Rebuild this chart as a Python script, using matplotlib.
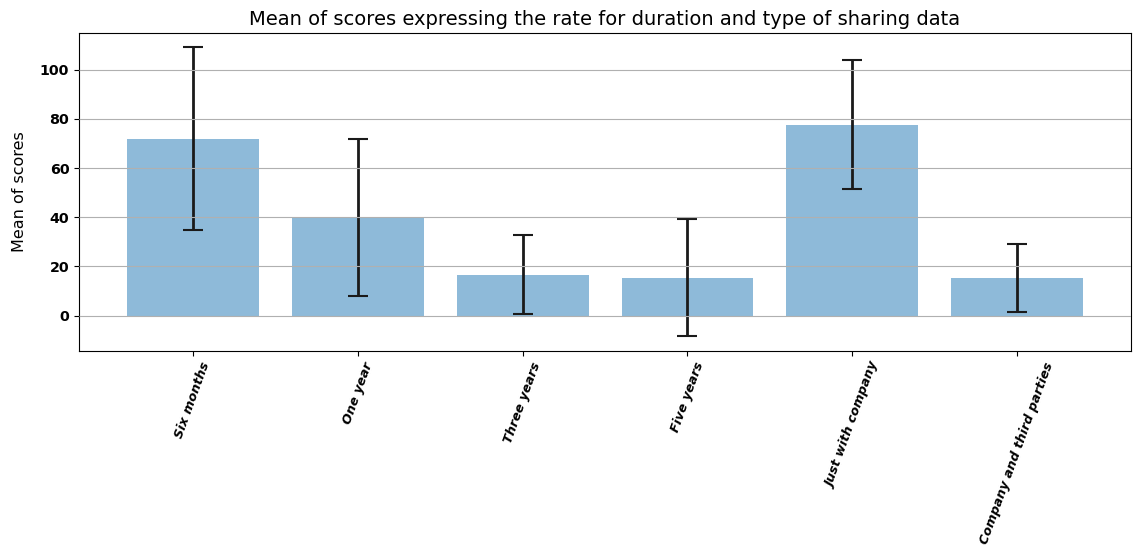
import matplotlib.pyplot as plt
import numpy as np

labels = ['Six months', 'One year', 'Three years', 'Five years',
          'Just with company', 'Company and third parties']
means = [71.9, 39.8, 16.7, 15.3, 77.7, 15.3]
errors = [37.2, 31.9, 16.0, 23.8, 26.1, 14.0]

x = np.arange(len(labels))

fig = plt.figure(figsize=(11.35, 5.5), dpi=100)
ax = fig.add_subplot(111)
fig.subplots_adjust(left=0.0696, right=0.9965, top=0.94, bottom=0.362)

ax.bar(x, means, yerr=errors, align='center', alpha=0.5,
       ecolor='#1a1a1a', capsize=7, error_kw={'elinewidth': 2, 'capthick': 1.5})
ax.set_ylabel('Mean of scores', fontsize=11.5, labelpad=9)
ax.set_xticks(x)
ax.set_xticklabels(labels, rotation=70, fontsize=9.2, fontweight='bold', style='italic')
for t in ax.get_yticklabels():
    t.set_fontweight('bold')
    t.set_fontsize(10.3)
ax.set_title('Mean of scores expressing the rate for duration and type of sharing data',
             fontsize=14)
ax.yaxis.grid(True, color='#b0b0b0')
ax.set_axisbelow(False)

fig.savefig('out.png', dpi=100)
